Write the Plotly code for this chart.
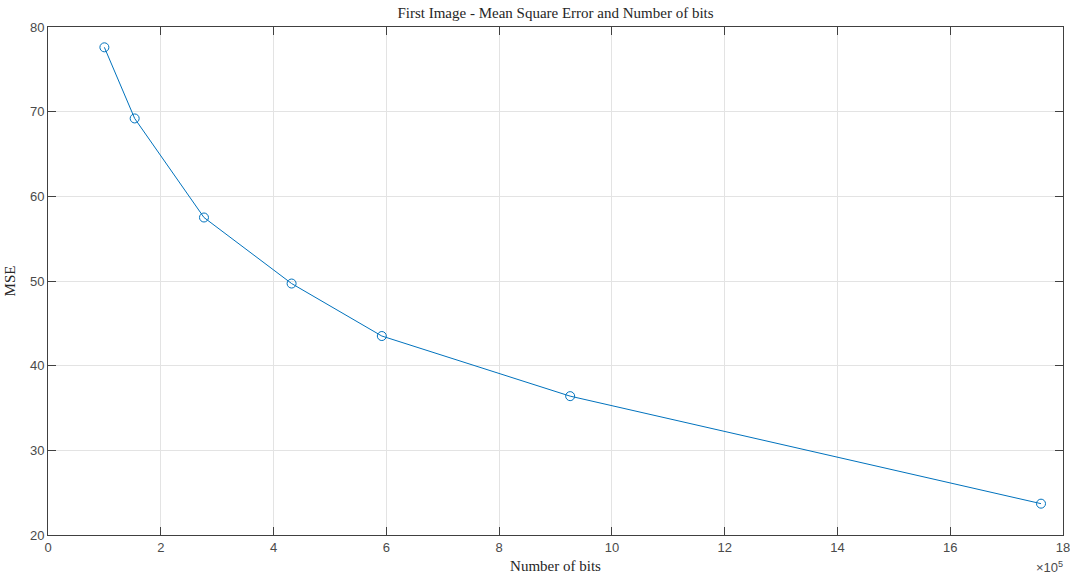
import plotly.graph_objects as go

# Number of bits (in units of 1e5) and the resulting mean square error
bits_e5 = [1.00, 1.537, 2.766, 4.32, 5.92, 9.26, 17.61]
mse = [77.6, 69.2, 57.5, 49.7, 43.5, 36.4, 23.7]

x_ticks = [0, 2, 4, 6, 8, 10, 12, 14, 16, 18]
y_ticks = [20, 30, 40, 50, 60, 70, 80]

line_color = "#0072BD"
axis_color = "#404040"
grid_color = "#e3e3e3"
tick_font = dict(family="Liberation Sans, Arial, sans-serif", size=13, color="#4a4a4a")
serif_font = dict(family="Liberation Serif, Times New Roman, serif", size=15, color="#262626")

fig = go.Figure()
fig.add_trace(go.Scatter(
    x=bits_e5,
    y=mse,
    mode="lines+markers",
    line=dict(color=line_color, width=1),
    marker=dict(symbol="circle-open", size=9, color=line_color, line=dict(width=1, color=line_color)),
    showlegend=False,
))

fig.update_layout(
    width=1070,
    height=578,
    margin=dict(l=48, r=7, t=27, b=43, autoexpand=False),
    paper_bgcolor="white",
    plot_bgcolor="white",
    title=dict(
        text="First Image - Mean Square Error and Number of bits",
        font=serif_font,
        x=(48 + 1063) / 2 / 1070,
        xanchor="center",
        yref="container",
        y=1 - 13 / 578,
        yanchor="middle",
    ),
    xaxis=dict(
        range=[0, 18],
        tickvals=x_ticks,
        ticktext=[str(v) for v in x_ticks],
        ticklabeloverflow="allow",
        automargin=False,
        showgrid=True,
        gridcolor=grid_color,
        gridwidth=1,
        zeroline=False,
        showline=True,
        linecolor=axis_color,
        linewidth=1,
        mirror="ticks",
        ticks="inside",
        ticklen=8,
        tickcolor=axis_color,
        tickwidth=1,
        tickfont=tick_font,
        title=dict(text="Number of bits", font=serif_font, standoff=6),
    ),
    yaxis=dict(
        range=[20, 80],
        tickvals=y_ticks,
        ticktext=[str(v) for v in y_ticks],
        automargin=False,
        showgrid=True,
        gridcolor=grid_color,
        gridwidth=1,
        zeroline=False,
        showline=True,
        linecolor=axis_color,
        linewidth=1,
        mirror="ticks",
        ticks="inside",
        ticklen=8,
        tickcolor=axis_color,
        tickwidth=1,
        tickfont=tick_font,
        title=dict(text="MSE", font=serif_font, standoff=10),
    ),
)

# Exponent multiplier for the x axis
fig.add_annotation(
    text="×10<sup>5</sup>",
    xref="paper",
    yref="paper",
    x=1.0,
    y=0,
    xanchor="right",
    yanchor="top",
    xshift=2,
    yshift=-22,
    showarrow=False,
    font=dict(family="Liberation Sans, Arial, sans-serif", size=13, color="#4a4a4a"),
)

fig.write_html("out.html")
